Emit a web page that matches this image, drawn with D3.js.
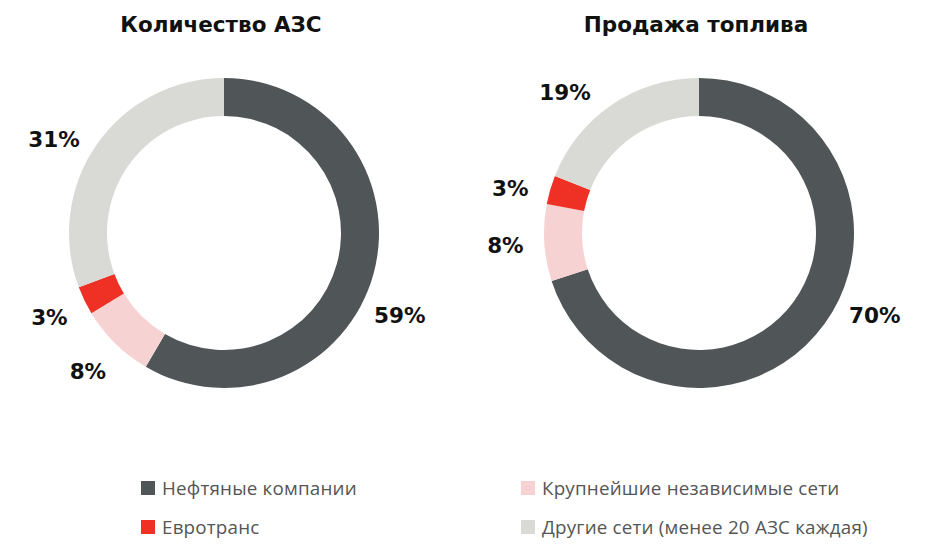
<!DOCTYPE html>
<html><head><meta charset="utf-8">
<script src="https://cdn.jsdelivr.net/npm/d3@7"></script>
<style>body{margin:0;background:#fff}svg{display:block}</style>
</head><body>
<script>
const categories = ["Нефтяные компании","Крупнейшие независимые сети","Евротранс","Другие сети (менее 20 АЗС каждая)"];
const chartTitles = ["Количество АЗС","Продажа топлива"];
const stationsShare = [59, 8, 3, 31];
const fuelShare = [70, 8, 3, 19];
const colors = ["#505657","#f7d2d2","#ee3124","#d9d9d5"];
const legendOrder = [[0,2],[1,3]];

const W = 936, H = 560;
const svg = d3.select("body").append("svg").attr("width", W).attr("height", H);
const charts = [
  {title: chartTitles[0], values: stationsShare, cx: 224},
  {title: chartTitles[1], values: fuelShare, cx: 699}
];
const cy = 233, rOuter = 155, rInner = 117, rLabel = 194;
const pie = d3.pie().sort(null).value(d => d);
const arc = d3.arc().innerRadius(rInner).outerRadius(rOuter);
const boldFont = "DejaVu Sans";

charts.forEach(c => {
  svg.append("text").attr("x", c.cx - 3).attr("y", 32).attr("text-anchor","middle")
    .attr("font-family",boldFont).attr("font-weight",700).attr("font-size",21.5)
    .attr("fill","#111").text(c.title);
  const g = svg.append("g").attr("transform",`translate(${c.cx},${cy})`);
  const arcs = pie(c.values);
  g.selectAll("path").data(arcs).join("path").attr("d", arc).attr("fill",(d,i)=>colors[i]);
  g.selectAll("text.lbl").data(arcs).join("text").attr("class","lbl")
    .attr("transform", d => {
      let a = (d.startAngle + d.endAngle)/2 * 180/Math.PI;
      if (d.value > 50) a = 115;
      else if (a > 270) a = 270 + (a - 270) * 0.83;
      a = a * Math.PI/180;
      return `translate(${rLabel*Math.sin(a)},${-rLabel*Math.cos(a)})`;
    })
    .attr("text-anchor","middle").attr("dy","0.36em")
    .attr("font-family",boldFont).attr("font-weight",700).attr("font-size",21.5)
    .attr("fill","#111").text(d => d.value + "%");
});

const legendX = [141, 521], legendY = [488, 527];
legendOrder.forEach((col, ci) => {
  col.forEach((k, ri) => {
    const g = svg.append("g").attr("transform",`translate(${legendX[ci]},${legendY[ri]})`);
    g.append("rect").attr("x",0).attr("y",-7).attr("width",14).attr("height",14).attr("fill",colors[k]);
    g.append("text").attr("x",21).attr("y",0).attr("dy","0.35em")
      .attr("font-family","Open Sans").attr("font-size",18.8).attr("fill","#555")
      .attr("letter-spacing","0.2px").text(categories[k]);
  });
});
</script>
</body></html>
